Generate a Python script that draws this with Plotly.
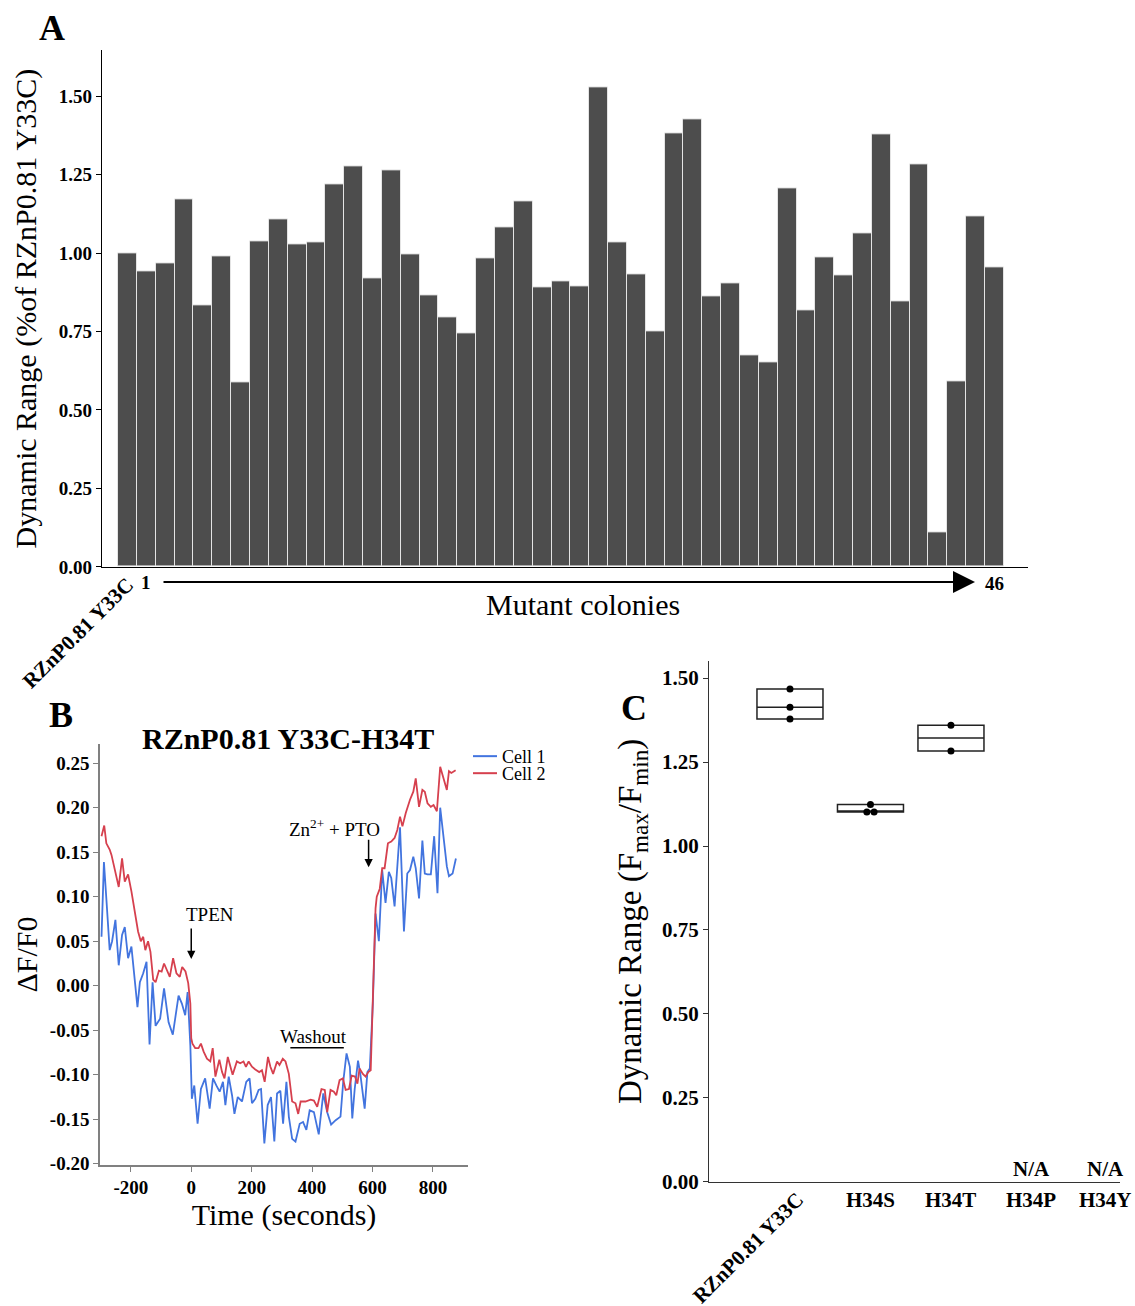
import plotly.graph_objects as go

W = 1135
H = 1320          # figure height in px
REF_H = 1306      # reference picture height used for placement
FONT = "Liberation Serif"


def px(x):
    return x / W


def py(y):
    return 1 - y / REF_H


# ---------------- Panel A data ----------------
colony_labels = ["RZnP0.81 Y33C"] + [str(i) for i in range(1, 47)]
dynamic_range_pct = [
    1.000, 0.942, 0.967, 1.171, 0.833, 0.989, 0.589, 1.038, 1.108, 1.029,
    1.035, 1.219, 1.277, 0.918, 1.265, 0.995, 0.866, 0.795, 0.745, 0.984,
    1.083, 1.166, 0.891, 0.909, 0.895, 1.528, 1.035, 0.932, 0.750, 1.381,
    1.427, 0.861, 0.905, 0.675, 0.652, 1.207, 0.817, 0.985, 0.928, 1.064,
    1.379, 0.847, 1.284, 0.110, 0.590, 1.118, 0.956,
]
a_yticks = [0.0, 0.25, 0.5, 0.75, 1.0, 1.25, 1.5]

# ---------------- Panel B data ----------------
cell1_time = [
    -297, -289, -281, -270, -262, -251, -240, -229, -220, -209, -198, -189,
    -178, -170, -159, -148, -138, -128, -118, -103, -90, -75, -61, -42, -31,
    -20, -12, -3, 2, 10, 21, 32, 46, 61, 72, 83, 94, 105, 113, 124, 135, 143,
    154, 168, 182, 193, 201, 212, 223, 231, 242, 253, 264, 275, 284, 295,
    304, 315, 323, 334, 345, 359, 370, 381, 392, 406, 422, 437, 450, 463,
    478, 494, 503, 514, 525, 533, 541, 552, 560, 574, 583, 591, 601, 610,
    621, 632, 643, 654, 662, 673, 691, 704, 715, 724, 735, 743, 754, 765,
    773, 782, 793, 804, 815, 824, 835, 846, 853, 865, 876,
]
cell1_dff = [
    0.055, 0.139, 0.098, 0.040, 0.050, 0.074, 0.023, 0.057, 0.066, 0.031,
    0.044, 0.016, -0.024, 0.004, 0.014, 0.027, -0.066, 0.004, -0.045,
    -0.037, -0.003, -0.041, -0.055, -0.011, -0.020, -0.033, -0.007, -0.067,
    -0.127, -0.112, -0.155, -0.116, -0.104, -0.138, -0.104, -0.112, -0.119,
    -0.108, -0.134, -0.102, -0.123, -0.144, -0.125, -0.130, -0.108, -0.104,
    -0.132, -0.127, -0.117, -0.116, -0.177, -0.134, -0.125, -0.175, -0.121,
    -0.118, -0.155, -0.108, -0.147, -0.172, -0.175, -0.155, -0.153, -0.162,
    -0.140, -0.142, -0.167, -0.121, -0.142, -0.156, -0.151, -0.147, -0.108,
    -0.076, -0.091, -0.149, -0.116, -0.084, -0.100, -0.138, -0.097, -0.093,
    -0.020, 0.081, 0.050, 0.130, 0.093, 0.128, 0.121, 0.089, 0.178, 0.061,
    0.126, 0.130, 0.145, 0.132, 0.098, 0.163, 0.126, 0.125, 0.125, 0.168,
    0.104, 0.200, 0.168, 0.134, 0.123, 0.126, 0.143,
]
cell2_time = [
    -297, -288, -281, -270, -264, -240, -229, -220, -209, -198, -176, -167,
    -159, -152, -143, -135, -126, -118, -107, -98, -90, -82, -71, -60, -49,
    -38, -30, -19, -10, -3, 0, 4, 13, 24, 32, 41, 52, 63, 71, 80, 88, 93,
    102, 110, 121, 129, 137, 151, 162, 173, 181, 190, 201, 212, 225, 234,
    243, 254, 262, 271, 284, 292, 303, 312, 323, 334, 345, 354, 362, 378,
    395, 406, 417, 431, 442, 450, 461, 472, 480, 491, 502, 511, 522, 531,
    542, 550, 557, 568, 577, 586, 594, 610, 614, 624, 632, 640, 651, 662,
    673, 682, 691, 699, 710, 724, 735, 743, 754, 765, 773, 782, 793, 802,
    813, 824, 832, 846, 853, 861, 875,
]
cell2_dff = [
    0.168, 0.180, 0.160, 0.153, 0.147, 0.111, 0.143, 0.117, 0.125, 0.106,
    0.061, 0.050, 0.055, 0.040, 0.050, 0.038, 0.007, 0.004, 0.017, 0.016,
    0.025, 0.019, 0.010, 0.031, 0.014, 0.010, 0.021, 0.016, 0.003, -0.020,
    -0.059, -0.065, -0.070, -0.070, -0.065, -0.074, -0.082, -0.085, -0.070,
    -0.102, -0.089, -0.083, -0.097, -0.104, -0.080, -0.091, -0.100, -0.085,
    -0.087, -0.085, -0.091, -0.085, -0.091, -0.094, -0.097, -0.095, -0.108,
    -0.080, -0.091, -0.099, -0.085, -0.089, -0.082, -0.085, -0.099, -0.130,
    -0.132, -0.144, -0.130, -0.130, -0.128, -0.129, -0.136, -0.116, -0.117,
    -0.142, -0.117, -0.119, -0.123, -0.106, -0.104, -0.117, -0.116, -0.101,
    -0.102, -0.110, -0.093, -0.099, -0.102, -0.097, -0.095, 0.087, 0.100,
    0.109, 0.132, 0.132, 0.160, 0.162, 0.166, 0.175, 0.190, 0.179, 0.194,
    0.209, 0.218, 0.233, 0.201, 0.220, 0.218, 0.205, 0.201, 0.203, 0.196,
    0.246, 0.237, 0.220, 0.241, 0.239, 0.242,
]
cell_names = ["Cell 1", "Cell 2"]
b_xticks = [-200, 0, 200, 400, 600, 800]
b_yticks = [-0.20, -0.15, -0.10, -0.05, 0.00, 0.05, 0.10, 0.15, 0.20, 0.25]

# ---------------- Panel C data ----------------
c_categories = ["RZnP0.81 Y33C", "H34S", "H34T", "H34P", "H34Y"]
c_y33c = [1.468, 1.413, 1.378]
c_h34s = [1.124, 1.101, 1.101]
c_h34t = [1.360, 1.283]
c_yticks = [0.0, 0.25, 0.5, 0.75, 1.0, 1.25, 1.5]

BLUE = "#4274df"
RED = "#d6404e"

fig = go.Figure()

# Panel A bars
fig.add_trace(go.Bar(
    x=list(range(len(dynamic_range_pct))), y=dynamic_range_pct,
    width=1.0, marker=dict(color="#4d4d4d", line=dict(color="#e4e4e4", width=1)),
    showlegend=False, xaxis="x", yaxis="y", hoverinfo="y",
))

# Panel B traces
fig.add_trace(go.Scatter(x=cell1_time, y=cell1_dff, mode="lines", name=cell_names[0],
                         line=dict(color=BLUE, width=1.8), xaxis="x2", yaxis="y2",
                         showlegend=False))
fig.add_trace(go.Scatter(x=cell2_time, y=cell2_dff, mode="lines", name=cell_names[1],
                         line=dict(color=RED, width=1.8), xaxis="x2", yaxis="y2",
                         showlegend=False))

# Panel C boxes + points
c_groups = [c_y33c, c_h34s, c_h34t]
c_jitter = [[0, 0, 0], [0, -0.045, 0.045], [0, 0]]
for i, vals in enumerate(c_groups):
    s = sorted(vals)
    med = s[len(s) // 2] if len(s) % 2 else (s[len(s) // 2 - 1] + s[len(s) // 2]) / 2
    fig.add_trace(go.Box(
        x=[i], q1=[min(vals)], median=[med], q3=[max(vals)],
        lowerfence=[min(vals)], upperfence=[max(vals)],
        width=0.82, fillcolor="white", line=dict(color="#222222", width=1.5),
        boxpoints=False, showlegend=False, xaxis="x3", yaxis="y3",
    ))
    fig.add_trace(go.Scatter(
        x=[i + j for j in c_jitter[i]], y=vals, mode="markers",
        marker=dict(color="black", size=7), showlegend=False,
        xaxis="x3", yaxis="y3",
    ))

tick_font = dict(family=FONT, size=19, color="black", weight="bold")

annotations = []


def ann(text, x, y, xref="paper", yref="paper", size=19, bold=True, angle=0, **kw):
    d = dict(text=text, x=x, y=y, xref=xref, yref=yref, showarrow=False,
             font=dict(family=FONT, size=size, color="black",
                       weight="bold" if bold else "normal"),
             textangle=angle, xanchor="center", yanchor="middle")
    d.update(kw)
    annotations.append(d)


# Panel letters
ann("A", px(52), py(28), size=36)
ann("B", px(61), py(714), size=36)
ann("C", px(634), py(707), size=36)

# Panel A x labels
ann(colony_labels[0], px(78), py(632), size=21, angle=-45)
ann(colony_labels[1], 1, py(582), xref="x", size=19)
ann(colony_labels[-1], 46, py(583), xref="x", size=19)
annotations.append(dict(
    x=px(975), y=py(581), xref="paper", yref="paper", text="",
    showarrow=True, ax=-(975 - 162), ay=0, axref="pixel", ayref="pixel",
    arrowhead=2, arrowsize=2.2, arrowwidth=2, arrowcolor="black",
))
ann("Mutant colonies", px(583), py(604), size=30, bold=False)

# Panel B annotations
ann("RZnP0.81 Y33C-H34T", px(288), py(737), size=30)
ann("TPEN", 63, 0.080, xref="x2", yref="y2", size=19, bold=False)
annotations.append(dict(x=0, y=0.030, xref="x2", yref="y2", text="",
                        showarrow=True, ax=0, ay=-32, arrowhead=2, arrowsize=1.1,
                        arrowwidth=1.5, arrowcolor="black"))
ann("Zn<sup>2+</sup> + PTO", 475, 0.177, xref="x2", yref="y2", size=19, bold=False)
annotations.append(dict(x=587, y=0.133, xref="x2", yref="y2", text="",
                        showarrow=True, ax=0, ay=-29, arrowhead=2, arrowsize=1.1,
                        arrowwidth=1.5, arrowcolor="black"))
ann("Washout", 405, -0.057, xref="x2", yref="y2", size=19, bold=False)

# Panel B legend (drawn manually for compact spacing)
shapes = [dict(type="line", xref="x2", yref="y2", x0=328, x1=505,
               y0=-0.0695, y1=-0.0695, line=dict(color="black", width=1.5))]
for name, col, yy in ((cell_names[0], BLUE, 755), (cell_names[1], RED, 772)):
    shapes.append(dict(type="line", xref="paper", yref="paper", x0=px(473), x1=px(497),
                       y0=py(yy), y1=py(yy), line=dict(color=col, width=2)))
    ann(name, px(500), py(yy), size=18, bold=False, xanchor="left", height=17)

# Panel C labels
ann(c_categories[0], px(748), py(1246), size=21, angle=-45)
for i in range(1, 5):
    ann(c_categories[i], i, py(1198), xref="x3", size=21, xshift=(-6 if i == 4 else 0))
for i in (3, 4):
    ann("N/A", i, py(1167), xref="x3", size=21, xshift=(-6 if i == 4 else 0))

fig.update_layout(
    width=W, height=H, margin=dict(l=0, r=0, t=0, b=0),
    paper_bgcolor="white", plot_bgcolor="white",
    font=dict(family=FONT, color="black"),
    bargap=0, showlegend=False,
    annotations=annotations, shapes=shapes,
    xaxis=dict(domain=[px(102), px(1028)], range=[-1.35, 47.78], anchor="y",
               showline=True, linecolor="black", linewidth=1.2,
               showticklabels=False, ticks="", showgrid=False, zeroline=False),
    yaxis=dict(domain=[py(566), py(50.3)], range=[0, 1.646], anchor="x",
               showline=True, linecolor="black", linewidth=1.2,
               tickvals=a_yticks, ticktext=[f"{v:.2f}" for v in a_yticks],
               ticks="outside", ticklen=5, tickcolor="black", tickfont=tick_font,
               showgrid=False, zeroline=False,
               title=dict(text="Dynamic Range (%of RZnP0.81 Y33C)",
                          font=dict(family=FONT, size=30, color="black"), standoff=13)),
    xaxis2=dict(domain=[px(100), px(468)], range=[-302, 916], anchor="y2",
                showline=True, linecolor="#808080", linewidth=1.6,
                tickvals=b_xticks, ticktext=[str(v) for v in b_xticks],
                ticks="outside", ticklen=5, tickcolor="#808080", tickfont=tick_font,
                showgrid=False, zeroline=False,
                title=dict(text="Time (seconds)", font=dict(family=FONT, size=30, color="black"),
                           standoff=4)),
    yaxis2=dict(domain=[py(1163), py(743)], range=[-0.2011, 0.2714], anchor="x2",
                showline=True, linecolor="#808080", linewidth=1.6,
                tickvals=b_yticks, ticktext=[f"{v:.2f}" for v in b_yticks],
                ticks="outside", ticklen=5, tickcolor="#808080", tickfont=tick_font,
                showgrid=False, zeroline=False,
                title=dict(text="ΔF/F0", font=dict(family=FONT, size=30, color="black"),
                           standoff=3)),
    xaxis3=dict(domain=[px(709), px(1120)], range=[-1.006, 4.10], anchor="y3",
                showline=True, linecolor="#333333", linewidth=1.2,
                showticklabels=False, ticks="", showgrid=False, zeroline=False),
    yaxis3=dict(domain=[py(1180), py(660)], range=[0, 1.551], anchor="x3",
                showline=True, linecolor="#333333", linewidth=1.2,
                tickvals=c_yticks, ticktext=[f"{v:.2f}" for v in c_yticks],
                ticks="outside", ticklen=5, tickcolor="#333333",
                tickfont=dict(family=FONT, size=21, color="black", weight="bold"),
                showgrid=False, zeroline=False,
                title=dict(text="Dynamic Range (F<sub>max</sub>/F<sub>min</sub>)",
                           font=dict(family=FONT, size=33, color="black"), standoff=10)),
)

fig.write_html("out.html", config={"responsive": False})
